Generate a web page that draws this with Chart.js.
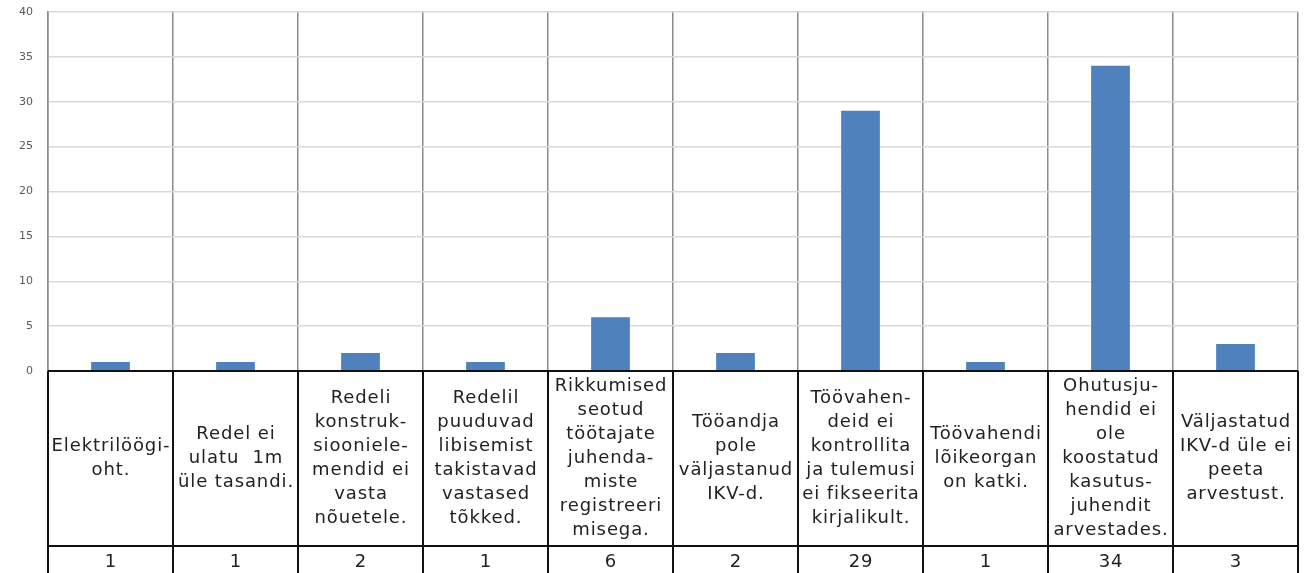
<!DOCTYPE html>
<html>
<head>
<meta charset="utf-8">
<script src="https://cdn.jsdelivr.net/npm/chart.js@4.4.1/dist/chart.umd.min.js"></script>
<style>
html,body{margin:0;padding:0;background:#fff;}
canvas{display:block;}
</style>
</head>
<body>
<canvas id="c" width="1311" height="573"></canvas>
<script>
// Data
const categories = [
  ["Elektrilöögi-", "oht."],
  ["Redel ei", "ulatu  1m", "üle tasandi."],
  ["Redeli", "konstruk-", "siooniele-", "mendid ei", "vasta", "nõuetele."],
  ["Redelil", "puuduvad", "libisemist", "takistavad", "vastased", "tõkked."],
  ["Rikkumised", "seotud", "töötajate", "juhenda-", "miste", "registreeri", "misega."],
  ["Tööandja", "pole", "väljastanud", "IKV-d."],
  ["Töövahen-", "deid ei", "kontrollita", "ja tulemusi", "ei fikseerita", "kirjalikult."],
  ["Töövahendi", "lõikeorgan", "on katki."],
  ["Ohutusju-", "hendid ei", "ole", "koostatud", "kasutus-", "juhendit", "arvestades."],
  ["Väljastatud", "IKV-d üle ei", "peeta", "arvestust."]
];
const values = [1, 1, 2, 1, 6, 2, 29, 1, 34, 3];
const yTicks = [0, 5, 10, 15, 20, 25, 30, 35, 40];

const tablePlugin = {
  id: 'dataTable',
  afterDraw(chart) {
    const ctx = chart.ctx;
    const xs = chart.scales.x;
    const area = chart.chartArea;
    const top = area.bottom;
    const rowSplit = top + 175;
    const bottom = chart.height + 5;
    const n = categories.length;
    const bounds = [];
    for (let i = 0; i <= n; i++) {
      if (i === 0) bounds.push(area.left);
      else if (i === n) bounds.push(area.right);
      else bounds.push((xs.getPixelForValue(i - 1) + xs.getPixelForValue(i)) / 2);
    }
    ctx.save();
    ctx.strokeStyle = '#111';
    ctx.lineWidth = 2;
    ctx.beginPath();
    bounds.forEach(b => { const x = Math.round(b); ctx.moveTo(x, top); ctx.lineTo(x, bottom); });
    ctx.moveTo(area.left, top); ctx.lineTo(area.right, top);
    ctx.moveTo(area.left, rowSplit); ctx.lineTo(area.right, rowSplit);
    ctx.stroke();

    ctx.fillStyle = '#222';
    ctx.font = '18px "DejaVu Sans"';
    try { ctx.letterSpacing = '0.9px'; } catch (e) {}
    ctx.textAlign = 'center';
    ctx.textBaseline = 'middle';
    const lh = 24;
    const mid = (top + rowSplit) / 2;
    categories.forEach((lines, i) => {
      const cx = xs.getPixelForValue(i) + 0.5;
      const y0 = mid - (lines.length - 1) * lh / 2;
      lines.forEach((ln, k) => ctx.fillText(ln, cx, y0 + k * lh));
    });
    values.forEach((v, i) => {
      const cx = xs.getPixelForValue(i) + 0.5;
      ctx.fillText(String(v), cx, rowSplit + 16);
    });
    ctx.restore();
  }
};

new Chart(document.getElementById('c'), {
  type: 'bar',
  data: {
    labels: categories.map(l => l.join(' ')),
    datasets: [{
      data: values,
      backgroundColor: '#4F81BD',
      borderWidth: 0,
      barPercentage: 0.31,
      categoryPercentage: 1.0
    }]
  },
  options: {
    responsive: false,
    animation: false,
    events: [],
    layout: { padding: { top: 12, right: 13, left: 0, bottom: 0 } },
    plugins: { legend: { display: false }, tooltip: { enabled: false } },
    scales: {
      x: {
        offset: true,
        afterFit: s => { s.height = 202; s.paddingLeft = 0; s.paddingRight = 0; },
        ticks: { display: false },
        grid: { color: '#8a8a8a', lineWidth: 1.5, drawTicks: false, offset: true },
        border: { color: '#111', width: 2 }
      },
      y: {
        min: 0,
        max: 40,
        afterFit: s => { s.width = 48; s.paddingTop = 0; s.paddingBottom = 0; },
        afterBuildTicks: s => { s.ticks = yTicks.map(v => ({ value: v })); },
        ticks: { stepSize: 5, padding: 15, color: '#5a5a5a', font: { family: 'DejaVu Sans', size: 11 } },
        grid: { color: '#d9d9d9', lineWidth: 1.5, drawTicks: false },
        border: { color: '#8a8a8a', width: 1.5 }
      }
    }
  },
  plugins: [tablePlugin]
});
</script>
</body>
</html>
